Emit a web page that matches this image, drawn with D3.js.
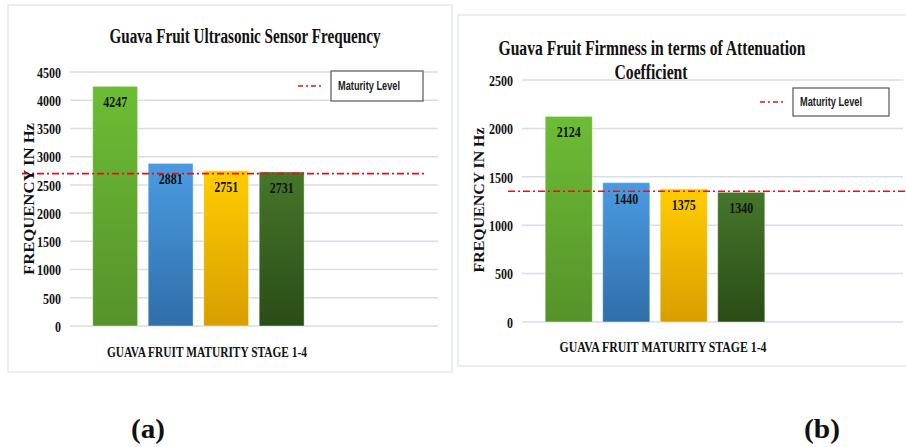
<!DOCTYPE html>
<html>
<head>
<meta charset="utf-8">
<script src="https://cdn.jsdelivr.net/npm/d3@7"></script>
<style>
  body { margin: 0; background: #fff; }
  svg { display: block; }
</style>
</head>
<body>
<svg id="fig" width="906" height="447"></svg>
<script>
const stages = ['Stage 1', 'Stage 2', 'Stage 3', 'Stage 4'];
const frequencyHz = [4247, 2881, 2751, 2731];
const attenuation = [2124, 1440, 1375, 1340];
const ticksA = [0, 500, 1000, 1500, 2000, 2500, 3000, 3500, 4000, 4500];
const ticksB = [0, 500, 1000, 1500, 2000, 2500];
const maturityA = 2700;
const maturityB = 1350;
const barTop = ['#6cbd35', '#4b9be2', '#ffcd00', '#45772a'];
const barBottom = ['#56922a', '#2f6ea9', '#d99e00', '#2a4c17'];

const serif = "'Liberation Serif', 'Times New Roman', serif";
const svg = d3.select('#fig');
const defs = svg.append('defs');

stages.forEach((s, i) => {
    const g = defs.append('linearGradient')
        .attr('id', 'grad' + i)
        .attr('x1', 0).attr('y1', 0).attr('x2', 0).attr('y2', 1);
    g.append('stop').attr('offset', '0%').attr('stop-color', barTop[i]);
    g.append('stop').attr('offset', '100%').attr('stop-color', barBottom[i]);
});

function squeeze(sel, len) {
    sel.attr('textLength', len).attr('lengthAdjust', 'spacingAndGlyphs');
}

function drawChart(c) {
    const g = svg.append('g');

    // panel frame
    g.append('rect')
        .attr('x', c.frame[0]).attr('y', c.frame[1])
        .attr('width', c.frame[2]).attr('height', c.frame[3])
        .attr('fill', 'none').attr('stroke', '#dde1ea').attr('stroke-width', 1.2);

    const y = d3.scaleLinear().domain([0, c.max]).range([c.y0, c.y1]);
    const x = d3.scaleBand().domain(stages).range(c.xr)
        .paddingInner(c.pad).paddingOuter(c.pad / 2);

    // gridlines
    g.selectAll('.grid')
        .data(c.ticks)
        .enter()
        .append('line')
            .attr('x1', c.gx[0]).attr('x2', c.gx[1])
            .attr('y1', d => y(d)).attr('y2', d => y(d))
            .attr('stroke', '#d9dde6').attr('stroke-width', 1.5);

    // y axis labels
    const yAxis = d3.axisLeft(y).tickValues(c.ticks).tickFormat(d3.format('d'))
        .tickSize(0).tickPadding(0);
    const ax = g.append('g')
        .attr('transform', `translate(${c.tickX}, 0)`)
        .call(yAxis);
    ax.select('.domain').remove();
    ax.selectAll('text')
        .attr('dy', '0.35em')
        .style('font-family', serif)
        .style('font-weight', 'bold')
        .style('font-size', '15px')
        .attr('fill', '#111')
        .each(function(d) { squeeze(d3.select(this), String(d).length * 6); });

    // bars
    g.selectAll('.bar')
        .data(c.values)
        .enter()
        .append('rect')
            .attr('x', (d, i) => x(stages[i]))
            .attr('y', d => y(d))
            .attr('width', x.bandwidth())
            .attr('height', d => c.y0 - y(d))
            .attr('fill', (d, i) => `url(#grad${i})`)
            .attr('stroke', 'rgba(255,255,255,0.45)')
            .attr('stroke-width', 1);

    // bar value labels
    g.selectAll('.lbl')
        .data(c.values)
        .enter()
        .append('text')
            .attr('x', (d, i) => x(stages[i]) + x.bandwidth() / 2)
            .attr('y', d => y(d) + 21)
            .attr('text-anchor', 'middle')
            .style('font-family', serif)
            .style('font-weight', 'bold')
            .style('font-size', '15px')
            .attr('fill', '#111')
            .text(d => d)
            .each(function() { squeeze(d3.select(this), 24); });

    // maturity level line
    g.append('line')
        .attr('x1', c.mx[0]).attr('x2', c.mx[1])
        .attr('y1', y(c.maturity)).attr('y2', y(c.maturity))
        .attr('stroke', '#e01414').attr('stroke-width', 1.6)
        .attr('stroke-dasharray', '7,3,2,3');

    // legend
    g.append('line')
        .attr('x1', c.leg[0] - 33).attr('x2', c.leg[0] - 8)
        .attr('y1', c.leg[1] + c.leg[3] / 2).attr('y2', c.leg[1] + c.leg[3] / 2)
        .attr('stroke', '#e01414').attr('stroke-width', 1.5)
        .attr('stroke-dasharray', '5,3,2,3');
    g.append('rect')
        .attr('x', c.leg[0]).attr('y', c.leg[1])
        .attr('width', c.leg[2]).attr('height', c.leg[3])
        .attr('fill', '#fff').attr('stroke', '#555').attr('stroke-width', 1.2);
    g.append('text')
        .attr('x', c.leg[0] + 7)
        .attr('y', c.leg[1] + c.leg[3] / 2 + 4)
        .style('font-family', "'Liberation Sans', Arial, sans-serif")
        .style('font-weight', 'bold')
        .style('font-size', '12px')
        .attr('fill', '#222')
        .text('Maturity Level')
        .call(squeeze, 62);

    // title
    c.title.forEach(t => {
        g.append('text')
            .attr('x', t[1]).attr('y', t[2])
            .attr('text-anchor', 'middle')
            .style('font-family', serif)
            .style('font-weight', 'bold')
            .style('font-size', '20px')
            .attr('fill', '#111')
            .text(t[0])
            .call(squeeze, t[3]);
    });

    // axis titles
    g.append('text')
        .attr('transform', `translate(${c.yt[0]}, ${c.yt[1]}) rotate(-90)`)
        .attr('text-anchor', 'middle')
        .style('font-family', serif)
        .style('font-weight', 'bold')
        .style('font-size', '15px')
        .attr('fill', '#111')
        .text('FREQUENCY IN Hz')
        .call(squeeze, c.yt[2]);

    g.append('text')
        .attr('x', c.xt[0]).attr('y', c.xt[1])
        .attr('text-anchor', 'middle')
        .style('font-family', serif)
        .style('font-weight', 'bold')
        .style('font-size', '15px')
        .attr('fill', '#111')
        .text('GUAVA FRUIT MATURITY STAGE 1-4')
        .call(squeeze, c.xt[2]);

    // panel tag
    g.append('text')
        .attr('x', c.tag[1]).attr('y', 438)
        .attr('text-anchor', 'middle')
        .style('font-family', serif)
        .style('font-weight', 'bold')
        .style('font-size', '28px')
        .attr('fill', '#111')
        .text(c.tag[0])
        .call(squeeze, c.tag[2]);
}

drawChart({
    frame: [8, 5, 444, 367],
    values: frequencyHz, ticks: ticksA, max: 4500,
    y0: 326, y1: 72, xr: [87.4, 309.4], pad: 0.19,
    gx: [70, 438], tickX: 61,
    maturity: maturityA, mx: [22, 426],
    leg: [331, 71, 92, 30],
    title: [['Guava Fruit Ultrasonic Sensor Frequency', 245, 43, 271]],
    yt: [34, 199, 152], xt: [207, 357, 200],
    tag: ['(a)', 148, 34]
});

drawChart({
    frame: [458, 15, 460, 351],
    values: attenuation, ticks: ticksB, max: 2500,
    y0: 322, y1: 80, xr: [540, 770], pad: 0.18,
    gx: [522, 903], tickX: 513,
    maturity: maturityB, mx: [508, 906],
    leg: [793, 88, 96, 28],
    title: [['Guava Fruit Firmness in terms of Attenuation', 652, 55, 307],
            ['Coefficient', 651, 79, 73]],
    yt: [484, 200, 145], xt: [663, 352, 207],
    tag: ['(b)', 822, 36]
});
</script>
</body>
</html>
